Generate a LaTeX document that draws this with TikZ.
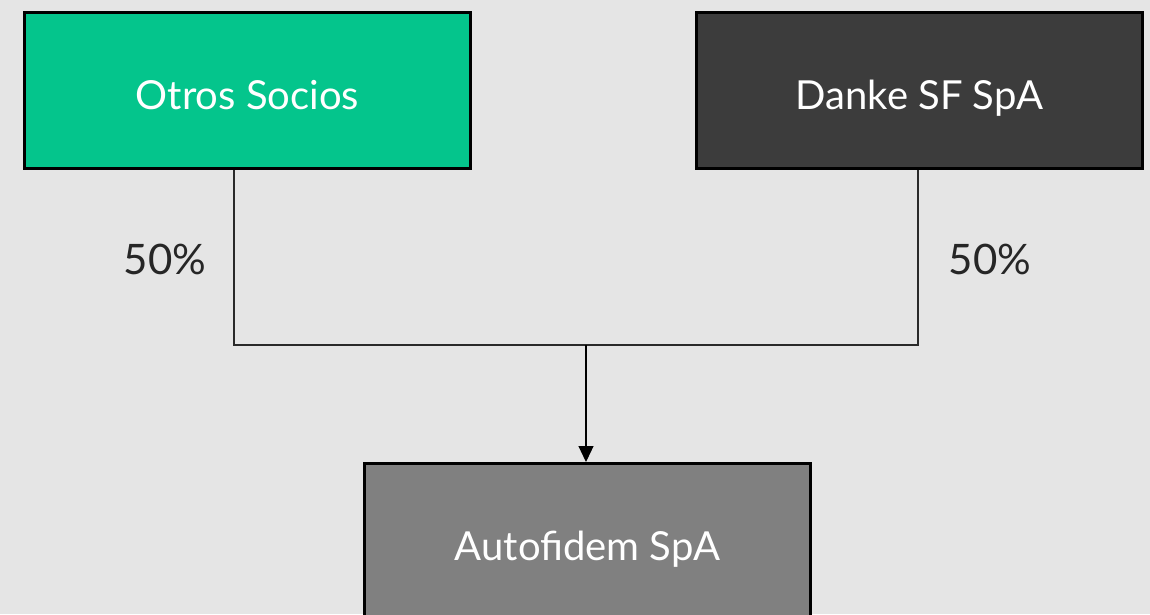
\documentclass[tikz,border=0pt]{standalone}
\usepackage{fontspec}
\setmainfont{Lato}
\usetikzlibrary{arrows.meta}
\definecolor{bg}{HTML}{E5E5E5}
\definecolor{green}{HTML}{04C58C}
\definecolor{dark}{HTML}{3C3C3C}
\definecolor{mid}{HTML}{808080}
\definecolor{line}{HTML}{2A2A2A}
\tikzset{
  box/.style={draw=black, line width=2.8pt, minimum width=446pt, minimum height=156pt, anchor=north west, text=white, font=\fontsize{40}{46}\selectfont, inner sep=0pt, text height=40pt, text depth=2pt},
  conn/.style={draw=line, line width=1.2pt},
  pct/.style={text=black!85, font=\fontsize{42}{48}\selectfont}
}
\begin{document}
\begin{tikzpicture}[x=1pt,y=-1pt]
\fill[bg] (0,0) rectangle (1150,614);
\useasboundingbox (0,0) rectangle (1150,614);
\node[box, fill=green] (otros) at (23,11) {Otros Socios};
\node[box, fill=dark] (danke) at (695,11) {Danke SF SpA};
\node[box, fill=mid] (auto) at (363,462) {Autofidem SpA};
\coordinate (jl) at (234,345);
\coordinate (jr) at (918,345);
\coordinate (jm) at (586,345);
\draw[conn] (otros.south -| jl) -- (jl) -- (jr) -- (danke.south -| jr);
\draw[conn, draw=black, -{Triangle[length=16pt,width=15pt]}] (jm) -- (auto.north -| jm);
\node[pct] (p1) at (165,259) {50\%};
\node[pct] (p2) at (990,259) {50\%};
\end{tikzpicture}
\end{document}
